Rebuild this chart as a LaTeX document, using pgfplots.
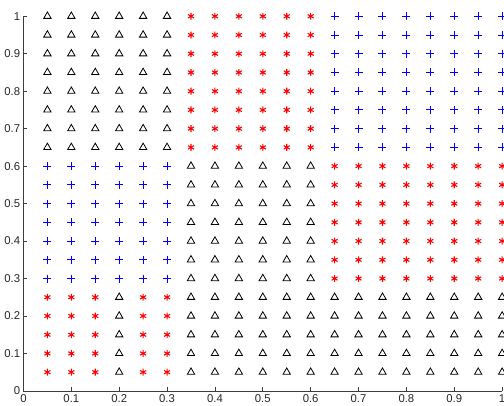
\documentclass[border=0pt]{standalone}
\usepackage{pgfplots}
\pgfplotsset{compat=1.18}
\usepackage{fontspec}
\setmainfont{Liberation Sans}
\definecolor{axgray}{RGB}{60,60,60}
\definecolor{mblue}{RGB}{0,0,255}
\begin{document}
\begin{tikzpicture}
\begin{axis}[
  scale only axis,
  width=359pt, height=281pt,
  xmin=0, xmax=1, ymin=0, ymax=1,
  axis x line*=bottom, axis y line*=left,
  axis line style={axgray, line width=0.6pt},
  xtick={0,0.1,...,1}, ytick={0,0.1,...,1},
  xticklabels={0,0.1,0.2,0.3,0.4,0.5,0.6,0.7,0.8,0.9,1},
  yticklabels={0,0.1,0.2,0.3,0.4,0.5,0.6,0.7,0.8,0.9,1},
  tick align=inside, major tick length=3pt,
  tick style={axgray, line width=0.6pt},
  ticklabel style={font=\fontsize{8.5}{10}\selectfont, text=black!85},
  /pgf/number format/assume math mode=true,
  xticklabel shift=-1pt, yticklabel shift=-1pt,
  clip=true,
]
% blue plus (middle left)
\addplot[only marks, mark=+, mark size=3pt, color=mblue, mark options={draw=mblue}, line width=0.7pt] coordinates {
(0.05,0.6)(0.1,0.6)(0.15,0.6)(0.2,0.6)(0.25,0.6)(0.3,0.6)
(0.05,0.55)(0.1,0.55)(0.15,0.55)(0.2,0.55)(0.25,0.55)(0.3,0.55)
(0.05,0.5)(0.1,0.5)(0.15,0.5)(0.2,0.5)(0.25,0.5)(0.3,0.5)
(0.05,0.45)(0.1,0.45)(0.15,0.45)(0.2,0.45)(0.25,0.45)(0.3,0.45)
(0.05,0.4)(0.1,0.4)(0.15,0.4)(0.2,0.4)(0.25,0.4)(0.3,0.4)
(0.05,0.35)(0.1,0.35)(0.15,0.35)(0.2,0.35)(0.25,0.35)(0.3,0.35)
(0.05,0.3)(0.1,0.3)(0.15,0.3)(0.2,0.3)(0.25,0.3)(0.3,0.3)
};
% blue plus (top right)
\addplot[only marks, mark=+, mark size=3pt, color=mblue, mark options={draw=mblue}, line width=0.7pt] coordinates {
(0.65,1)(0.7,1)(0.75,1)(0.8,1)(0.85,1)(0.9,1)(0.95,1)(1,1)
(0.65,0.95)(0.7,0.95)(0.75,0.95)(0.8,0.95)(0.85,0.95)(0.9,0.95)(0.95,0.95)(1,0.95)
(0.65,0.9)(0.7,0.9)(0.75,0.9)(0.8,0.9)(0.85,0.9)(0.9,0.9)(0.95,0.9)(1,0.9)
(0.65,0.85)(0.7,0.85)(0.75,0.85)(0.8,0.85)(0.85,0.85)(0.9,0.85)(0.95,0.85)(1,0.85)
(0.65,0.8)(0.7,0.8)(0.75,0.8)(0.8,0.8)(0.85,0.8)(0.9,0.8)(0.95,0.8)(1,0.8)
(0.65,0.75)(0.7,0.75)(0.75,0.75)(0.8,0.75)(0.85,0.75)(0.9,0.75)(0.95,0.75)(1,0.75)
(0.65,0.7)(0.7,0.7)(0.75,0.7)(0.8,0.7)(0.85,0.7)(0.9,0.7)(0.95,0.7)(1,0.7)
(0.65,0.65)(0.7,0.65)(0.75,0.65)(0.8,0.65)(0.85,0.65)(0.9,0.65)(0.95,0.65)(1,0.65)
};
% black open triangles
\addplot[only marks, mark=triangle, mark size=3.2pt, black, line width=0.6pt] coordinates {
(0.05,1)(0.1,1)(0.15,1)(0.2,1)(0.25,1)(0.3,1)
(0.05,0.95)(0.1,0.95)(0.15,0.95)(0.2,0.95)(0.25,0.95)(0.3,0.95)
(0.05,0.9)(0.1,0.9)(0.15,0.9)(0.2,0.9)(0.25,0.9)(0.3,0.9)
(0.05,0.85)(0.1,0.85)(0.15,0.85)(0.2,0.85)(0.25,0.85)(0.3,0.85)
(0.05,0.8)(0.1,0.8)(0.15,0.8)(0.2,0.8)(0.25,0.8)(0.3,0.8)
(0.05,0.75)(0.1,0.75)(0.15,0.75)(0.2,0.75)(0.25,0.75)(0.3,0.75)
(0.05,0.7)(0.1,0.7)(0.15,0.7)(0.2,0.7)(0.25,0.7)(0.3,0.7)
(0.05,0.65)(0.1,0.65)(0.15,0.65)(0.2,0.65)(0.25,0.65)(0.3,0.65)
(0.35,0.6)(0.4,0.6)(0.45,0.6)(0.5,0.6)(0.55,0.6)(0.6,0.6)
(0.35,0.55)(0.4,0.55)(0.45,0.55)(0.5,0.55)(0.55,0.55)(0.6,0.55)
(0.35,0.5)(0.4,0.5)(0.45,0.5)(0.5,0.5)(0.55,0.5)(0.6,0.5)
(0.35,0.45)(0.4,0.45)(0.45,0.45)(0.5,0.45)(0.55,0.45)(0.6,0.45)
(0.35,0.4)(0.4,0.4)(0.45,0.4)(0.5,0.4)(0.55,0.4)(0.6,0.4)
(0.35,0.35)(0.4,0.35)(0.45,0.35)(0.5,0.35)(0.55,0.35)(0.6,0.35)
(0.35,0.3)(0.4,0.3)(0.45,0.3)(0.5,0.3)(0.55,0.3)(0.6,0.3)
(0.2,0.25)(0.35,0.25)(0.4,0.25)(0.45,0.25)(0.5,0.25)(0.55,0.25)(0.6,0.25)(0.65,0.25)(0.7,0.25)(0.75,0.25)(0.8,0.25)(0.85,0.25)(0.9,0.25)(0.95,0.25)(1,0.25)
(0.2,0.2)(0.35,0.2)(0.4,0.2)(0.45,0.2)(0.5,0.2)(0.55,0.2)(0.6,0.2)(0.65,0.2)(0.7,0.2)(0.75,0.2)(0.8,0.2)(0.85,0.2)(0.9,0.2)(0.95,0.2)(1,0.2)
(0.2,0.15)(0.35,0.15)(0.4,0.15)(0.45,0.15)(0.5,0.15)(0.55,0.15)(0.6,0.15)(0.65,0.15)(0.7,0.15)(0.75,0.15)(0.8,0.15)(0.85,0.15)(0.9,0.15)(0.95,0.15)(1,0.15)
(0.2,0.1)(0.35,0.1)(0.4,0.1)(0.45,0.1)(0.5,0.1)(0.55,0.1)(0.6,0.1)(0.65,0.1)(0.7,0.1)(0.75,0.1)(0.8,0.1)(0.85,0.1)(0.9,0.1)(0.95,0.1)(1,0.1)
(0.2,0.05)(0.35,0.05)(0.4,0.05)(0.45,0.05)(0.5,0.05)(0.55,0.05)(0.6,0.05)(0.65,0.05)(0.7,0.05)(0.75,0.05)(0.8,0.05)(0.85,0.05)(0.9,0.05)(0.95,0.05)(1,0.05)
};
% red asterisks
\addplot[only marks, mark=asterisk, mark size=2.6pt, red, line width=0.8pt] coordinates {
(0.35,1)(0.4,1)(0.45,1)(0.5,1)(0.55,1)(0.6,1)
(0.35,0.95)(0.4,0.95)(0.45,0.95)(0.5,0.95)(0.55,0.95)(0.6,0.95)
(0.35,0.9)(0.4,0.9)(0.45,0.9)(0.5,0.9)(0.55,0.9)(0.6,0.9)
(0.35,0.85)(0.4,0.85)(0.45,0.85)(0.5,0.85)(0.55,0.85)(0.6,0.85)
(0.35,0.8)(0.4,0.8)(0.45,0.8)(0.5,0.8)(0.55,0.8)(0.6,0.8)
(0.35,0.75)(0.4,0.75)(0.45,0.75)(0.5,0.75)(0.55,0.75)(0.6,0.75)
(0.35,0.7)(0.4,0.7)(0.45,0.7)(0.5,0.7)(0.55,0.7)(0.6,0.7)
(0.35,0.65)(0.4,0.65)(0.45,0.65)(0.5,0.65)(0.55,0.65)(0.6,0.65)
(0.65,0.6)(0.7,0.6)(0.75,0.6)(0.8,0.6)(0.85,0.6)(0.9,0.6)(0.95,0.6)(1,0.6)
(0.65,0.55)(0.7,0.55)(0.75,0.55)(0.8,0.55)(0.85,0.55)(0.9,0.55)(0.95,0.55)(1,0.55)
(0.65,0.5)(0.7,0.5)(0.75,0.5)(0.8,0.5)(0.85,0.5)(0.9,0.5)(0.95,0.5)(1,0.5)
(0.65,0.45)(0.7,0.45)(0.75,0.45)(0.8,0.45)(0.85,0.45)(0.9,0.45)(0.95,0.45)(1,0.45)
(0.65,0.4)(0.7,0.4)(0.75,0.4)(0.8,0.4)(0.85,0.4)(0.9,0.4)(0.95,0.4)(1,0.4)
(0.65,0.35)(0.7,0.35)(0.75,0.35)(0.8,0.35)(0.85,0.35)(0.9,0.35)(0.95,0.35)(1,0.35)
(0.65,0.3)(0.7,0.3)(0.75,0.3)(0.8,0.3)(0.85,0.3)(0.9,0.3)(0.95,0.3)(1,0.3)
(0.05,0.25)(0.1,0.25)(0.15,0.25)(0.25,0.25)(0.3,0.25)
(0.05,0.2)(0.1,0.2)(0.15,0.2)(0.25,0.2)(0.3,0.2)
(0.05,0.15)(0.1,0.15)(0.15,0.15)(0.25,0.15)(0.3,0.15)
(0.05,0.1)(0.1,0.1)(0.15,0.1)(0.25,0.1)(0.3,0.1)
(0.05,0.05)(0.1,0.05)(0.15,0.05)(0.25,0.05)(0.3,0.05)
};
\end{axis}
\pgfresetboundingbox
\path[use as bounding box] (current axis.south west) ++(-17.6pt,-11.3pt) rectangle ++(378pt,304.5pt);
\end{tikzpicture}
\end{document}
